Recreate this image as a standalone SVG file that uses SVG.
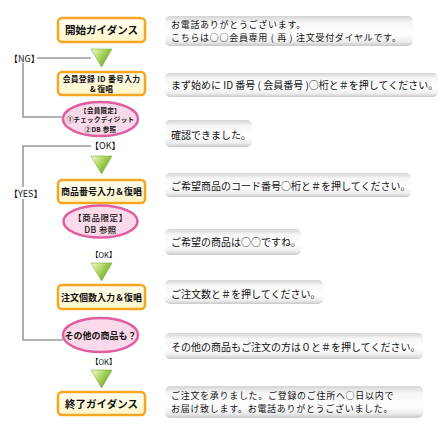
<svg xmlns="http://www.w3.org/2000/svg" width="444" height="443" viewBox="0 0 444 443">
<defs>
<linearGradient id="gBox" x1="0" y1="0" x2="0" y2="1">
<stop offset="0" stop-color="#fffef0"/><stop offset="1" stop-color="#fff6c8"/>
</linearGradient>
<linearGradient id="gTri" x1="0" y1="0" x2="1" y2="0.6">
<stop offset="0" stop-color="#f4fadc"/><stop offset="0.45" stop-color="#b6dc6a"/><stop offset="1" stop-color="#5e9e1e"/>
</linearGradient>
<linearGradient id="gMsg" x1="0" y1="0" x2="0" y2="1">
<stop offset="0" stop-color="#d4d4d4"/><stop offset="0.22" stop-color="#f6f6f6"/><stop offset="0.6" stop-color="#ffffff"/><stop offset="0.85" stop-color="#eeeeee"/><stop offset="1" stop-color="#c8c8c8"/>
</linearGradient>
<polygon id="tri" points="-10.5,0 10.5,0 0,18" fill="url(#gTri)" stroke="#7ab03a" stroke-width="0.6"/>
</defs>
<style>
text{font-family:"Noto Sans CJK JP","Noto Sans",sans-serif;fill:#111}
.box{fill:url(#gBox);stroke:#f5a623;stroke-width:2.5}
.ell{fill:#f9d9ea;stroke:#de5ea0;stroke-width:2.5}
.msg{fill:url(#gMsg)}
.bt{font-weight:bold;text-anchor:middle}
.mt{font-size:10px}
.m2{font-size:9px;letter-spacing:0.7px}
.lbl{font-size:9px}
.sl{font-size:7.5px}
.con{stroke:#9a9a9a;stroke-width:1.6;fill:none}
</style>
<rect width="444" height="443" fill="#ffffff"/>
<g id="connectors">
<polyline class="con" points="37,58 91,58"/>
<polyline class="con" points="23,63 23,117 63,117"/>
<polyline class="con" points="91,146 23,146 23,187"/>
<polyline class="con" points="23,199 23,340 63,340"/>
<use href="#tri" x="101.5" y="49"/>
<use href="#tri" x="101.5" y="156"/>
<use href="#tri" x="101.5" y="263"/>
<use href="#tri" x="101.5" y="370"/>
<text class="lbl" x="9" y="61.5">【NG】</text>
<text class="lbl" x="90" y="149">【OK】</text>
<text class="lbl" x="9" y="196.5">【YES】</text>
<text class="sl" x="91" y="258">【OK】</text>
<text class="sl" x="91" y="365">【OK】</text>
</g>
<g id="n1"><rect class="box" x="58" y="18" width="87" height="24" rx="4"/><text class="bt" x="101.5" y="34" font-size="10.5">開始ガイダンス</text></g>
<g id="n2"><rect class="box" x="58" y="72" width="87" height="23" rx="4"/><text class="bt" x="101.5" y="81.5" font-size="7.8" letter-spacing="0.3">会員登録 ID 番号入力</text><text class="bt" x="101.5" y="92" font-size="7.8">&amp; 復唱</text></g>
<g id="n3"><ellipse class="ell" cx="100.5" cy="119" rx="37.5" ry="17"/><text class="bt" x="100.5" y="112.5" font-size="6.5" letter-spacing="0.3">【会員限定】</text><text class="bt" x="100.5" y="122" font-size="6.5" letter-spacing="0.3">①チェックディジット</text><text class="bt" x="100.5" y="131.5" font-size="6.5" letter-spacing="0.3">②DB 参照</text></g>
<g id="n4"><rect class="box" x="58" y="180" width="87" height="23" rx="4"/><text class="bt" x="101.5" y="195" font-size="9">商品番号入力＆復唱</text></g>
<g id="n5"><ellipse class="ell" cx="100.5" cy="221.5" rx="37" ry="16"/><text x="100.5" y="221" font-size="8.5" font-weight="500" text-anchor="middle" letter-spacing="0.6">【商品限定】</text><text x="100.5" y="233" font-size="8.5" font-weight="500" text-anchor="middle" letter-spacing="0.4">DB 参照</text></g>
<g id="n6"><rect class="box" x="58" y="285" width="87" height="24" rx="4"/><text class="bt" x="101.5" y="300.5" font-size="9">注文個数入力＆復唱</text></g>
<g id="n7"><ellipse class="ell" cx="100.5" cy="335" rx="37.5" ry="17"/><text class="bt" x="100.5" y="338.5" font-size="9">その他の商品も？</text></g>
<g id="n8"><rect class="box" x="58" y="392" width="87" height="23" rx="4"/><text class="bt" x="101.5" y="407.5" font-size="10.5">終了ガイダンス</text></g>
<g id="m1"><rect class="msg" x="165" y="16" width="248" height="30" rx="5"/><text class="m2" x="171" y="28">お電話ありがとうございます。</text><text class="m2" x="171" y="41">こちらは○○会員専用 ( 再 ) 注文受付ダイヤルです。</text></g>
<g id="m2"><rect class="msg" x="165" y="73" width="273" height="24" rx="5"/><text class="mt" x="171" y="88.5">まず始めに ID 番号 ( 会員番号 )○桁と＃を押してください。</text></g>
<g id="m3"><rect class="msg" x="165" y="120" width="87" height="27" rx="5"/><text class="mt" x="171" y="138.5">確認できました。</text></g>
<g id="m4"><rect class="msg" x="165" y="173" width="246" height="24" rx="5"/><text class="mt" x="171" y="189.5">ご希望商品のコード番号○桁と＃を押してください。</text></g>
<g id="m5"><rect class="msg" x="165" y="229" width="136" height="26" rx="5"/><text class="mt" x="171" y="245.5">ご希望の商品は○○ですね。</text></g>
<g id="m6"><rect class="msg" x="165" y="280" width="158" height="24" rx="5"/><text class="mt" x="171" y="297.5">ご注文数と＃を押してください。</text></g>
<g id="m7"><rect class="msg" x="165" y="333" width="258" height="26" rx="5"/><text class="mt" x="171" y="350.5">その他の商品もご注文の方は０と＃を押してください。</text></g>
<g id="m8"><rect class="msg" x="165" y="386" width="258" height="32" rx="5"/><text class="m2" x="171" y="398.5">ご注文を承りました。ご登録のご住所へ○日以内で</text><text class="m2" x="171" y="411.5">お届け致します。お電話ありがとうございました。</text></g>
</svg>
